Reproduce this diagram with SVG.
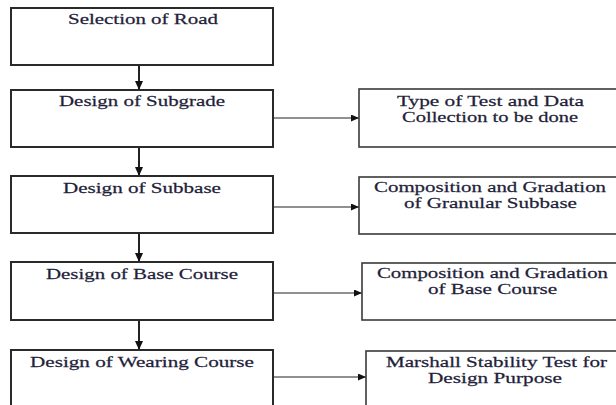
<svg xmlns="http://www.w3.org/2000/svg" width="616" height="405" viewBox="0 0 616 405">
<defs>
<style>
.lb{fill:#fff;stroke:#2a2a2a;stroke-width:2}
.rb{fill:#fff;stroke:#3a3a3a;stroke-width:1.6}
.t{font-family:"Liberation Serif","Times New Roman",serif;font-size:15.5px;fill:#1f1f3a;stroke:#1f1f3a;stroke-width:0.25;text-anchor:start}
.v{stroke:#222;stroke-width:2;fill:none}
.h{stroke:#222;stroke-width:1.2;fill:none}
</style>
<marker id="av" markerUnits="userSpaceOnUse" markerWidth="10" markerHeight="8" refX="9" refY="4" orient="auto"><path d="M0,0 L9,4 L0,8 z" fill="#111"/></marker>
<marker id="ah" markerUnits="userSpaceOnUse" markerWidth="9" markerHeight="7" refX="8" refY="3.5" orient="auto"><path d="M0,0 L8,3.5 L0,7 z" fill="#111"/></marker>
</defs>
<rect width="616" height="405" fill="#fff"/>
<g id="connectors">
<line class="v" x1="139" y1="65" x2="139" y2="90" marker-end="url(#av)"/>
<line class="v" x1="139" y1="147" x2="139" y2="176" marker-end="url(#av)"/>
<line class="v" x1="139" y1="233" x2="139" y2="262" marker-end="url(#av)"/>
<line class="v" x1="139" y1="320" x2="139" y2="350" marker-end="url(#av)"/>
<line class="h" x1="273" y1="118" x2="359" y2="118" marker-end="url(#ah)"/>
<line class="h" x1="273" y1="207" x2="359" y2="207" marker-end="url(#ah)"/>
<line class="h" x1="273" y1="293" x2="362" y2="293" marker-end="url(#ah)"/>
<line class="h" x1="273" y1="377" x2="366" y2="377" marker-end="url(#ah)"/>
</g>
<g id="n1"><rect class="lb" x="11" y="8" width="262" height="57"/><text class="t" transform="translate(68,24) scale(1.35,1)" textLength="111.1" lengthAdjust="spacingAndGlyphs">Selection of Road</text></g>
<g id="n2"><rect class="lb" x="11" y="90" width="262" height="57"/><text class="t" transform="translate(59,106) scale(1.35,1)" textLength="123" lengthAdjust="spacingAndGlyphs">Design of Subgrade</text></g>
<g id="n3"><rect class="lb" x="11" y="176" width="262" height="57"/><text class="t" transform="translate(63,193) scale(1.35,1)" textLength="117" lengthAdjust="spacingAndGlyphs">Design of Subbase</text></g>
<g id="n4"><rect class="lb" x="11" y="262" width="262" height="58"/><text class="t" transform="translate(46,279) scale(1.35,1)" textLength="142.2" lengthAdjust="spacingAndGlyphs">Design of Base Course</text></g>
<g id="n5"><rect class="lb" x="11" y="350" width="262" height="70"/><text class="t" transform="translate(30,367) scale(1.35,1)" textLength="165.9" lengthAdjust="spacingAndGlyphs">Design of Wearing Course</text></g>
<g id="r1"><rect class="rb" x="359" y="89" width="265" height="58"/><text class="t" transform="translate(397,106) scale(1.35,1)" textLength="138.5" lengthAdjust="spacingAndGlyphs">Type of Test and Data</text><text class="t" transform="translate(402,122) scale(1.35,1)" textLength="130.4" lengthAdjust="spacingAndGlyphs">Collection to be done</text></g>
<g id="r2"><rect class="rb" x="359" y="177" width="265" height="57"/><text class="t" transform="translate(374,192) scale(1.35,1)" textLength="171.9" lengthAdjust="spacingAndGlyphs">Composition and Gradation</text><text class="t" transform="translate(404,208) scale(1.35,1)" textLength="128.1" lengthAdjust="spacingAndGlyphs">of Granular Subbase</text></g>
<g id="r3"><rect class="rb" x="362" y="263" width="265" height="57"/><text class="t" transform="translate(377,278) scale(1.35,1)" textLength="171.1" lengthAdjust="spacingAndGlyphs">Composition and Gradation</text><text class="t" transform="translate(428,294) scale(1.35,1)" textLength="95.6" lengthAdjust="spacingAndGlyphs">of Base Course</text></g>
<g id="r4"><rect class="rb" x="366" y="351" width="265" height="70"/><text class="t" transform="translate(386,367) scale(1.35,1)" textLength="163.7" lengthAdjust="spacingAndGlyphs">Marshall Stability Test for</text><text class="t" transform="translate(428,383) scale(1.35,1)" textLength="99.3" lengthAdjust="spacingAndGlyphs">Design Purpose</text></g>
</svg>
